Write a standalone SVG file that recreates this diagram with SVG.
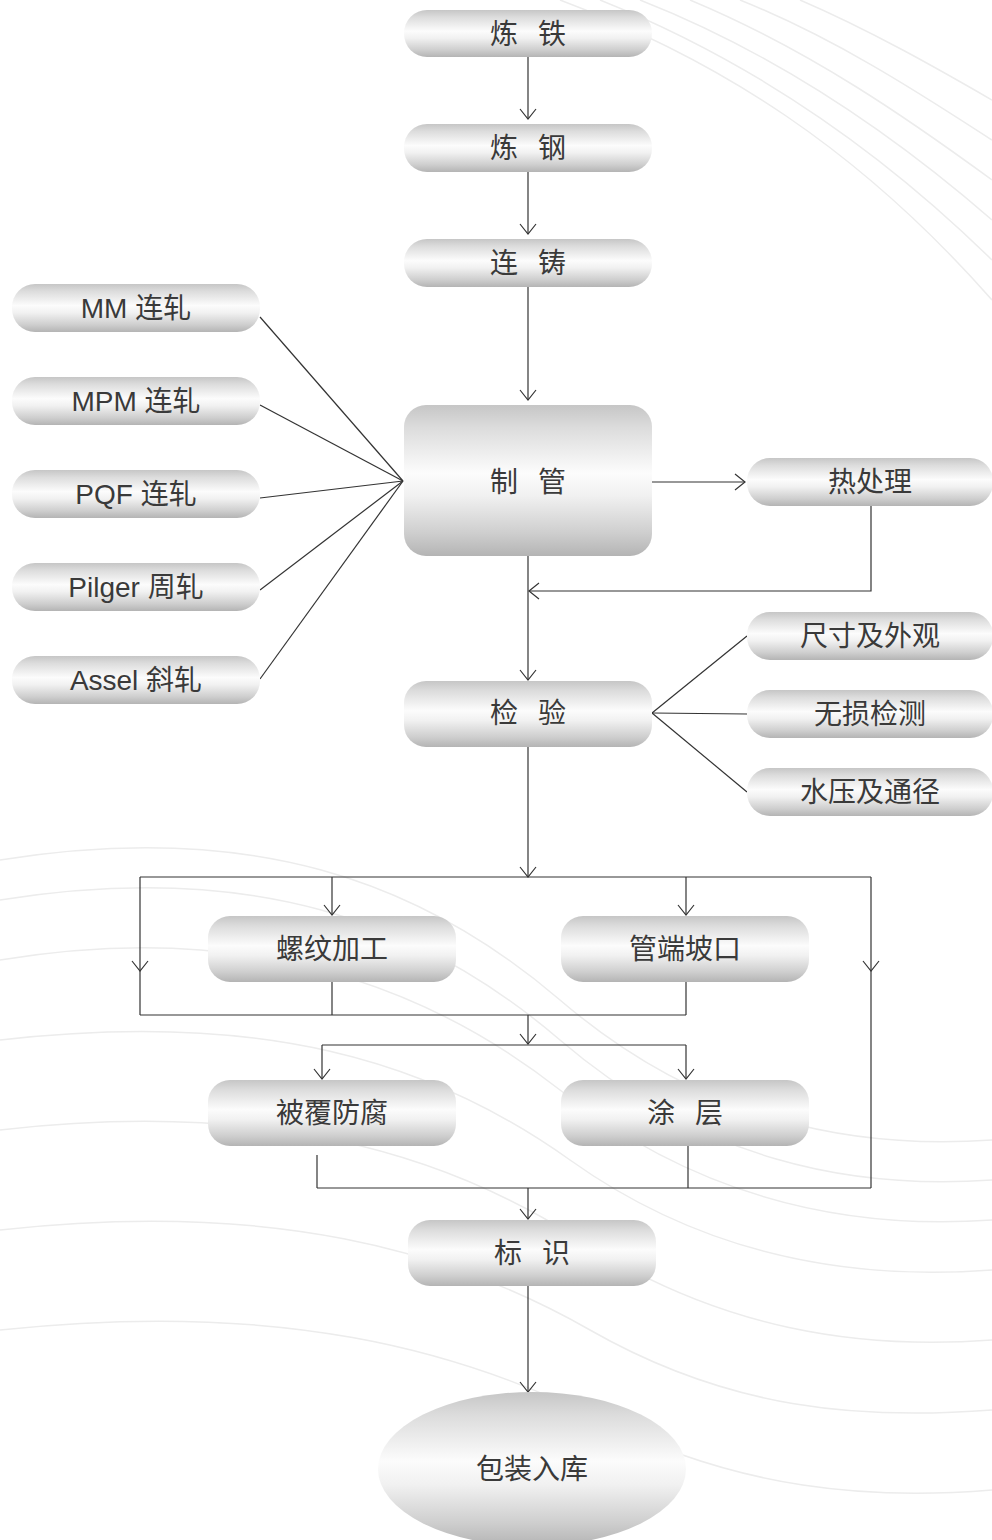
<svg xmlns="http://www.w3.org/2000/svg" width="992" height="1540" viewBox="0 0 992 1540">
<style>
.n{fill:url(#g);}
.t{font-family:"Liberation Sans","Noto Sans CJK SC",sans-serif;font-size:28px;fill:#3a3a3a;text-anchor:middle;dominant-baseline:central;}
.sp{word-spacing:12px;}
.c{stroke:#333;stroke-width:1.2;fill:none;}
.a{marker-end:url(#ah);}
.bg{fill:none;stroke:#ececec;stroke-width:1.5;}
</style>
<defs>
<linearGradient id="g" x1="0" y1="0" x2="0" y2="1">
<stop offset="0" stop-color="#c6c6c6"/>
<stop offset="0.15" stop-color="#dcdcdc"/>
<stop offset="0.45" stop-color="#fcfcfc"/>
<stop offset="0.6" stop-color="#f1f1f1"/>
<stop offset="0.85" stop-color="#cecece"/>
<stop offset="1" stop-color="#b4b4b4"/>
</linearGradient>
<marker id="ah" markerUnits="userSpaceOnUse" viewBox="-1 -9 12 18" refX="10" refY="0" markerWidth="12" markerHeight="18" orient="auto">
<path d="M0,-8 L10,0 L0,8" fill="none" stroke="#333" stroke-width="1.2"/>
</marker>
</defs>
<rect width="992" height="1540" fill="#ffffff"/>
<g id="background">
<path class="bg" d="M560,0 C720,60 860,150 992,300"/>
<path class="bg" d="M600,0 C750,60 880,150 992,260"/>
<path class="bg" d="M640,0 C780,55 900,140 992,220"/>
<path class="bg" d="M690,0 C810,50 910,120 992,180"/>
<path class="bg" d="M740,0 C840,40 930,100 992,140"/>
<path class="bg" d="M800,0 C870,30 940,70 992,100"/>
<path class="bg" d="M0,860 C250,820 420,880 560,1000 C700,1120 850,1150 992,1140"/>
<path class="bg" d="M0,900 C250,860 420,920 560,1040 C700,1160 850,1190 992,1180"/>
<path class="bg" d="M0,960 C240,920 420,980 560,1090 C700,1200 850,1230 992,1220"/>
<path class="bg" d="M0,1040 C260,1010 430,1060 570,1160 C710,1260 860,1280 992,1270"/>
<path class="bg" d="M0,1130 C260,1100 440,1150 580,1240 C720,1330 860,1350 992,1340"/>
<path class="bg" d="M0,1230 C270,1200 450,1250 590,1330 C730,1410 860,1420 992,1410"/>
<path class="bg" d="M0,1330 C280,1300 460,1350 600,1420 C740,1490 870,1500 992,1490"/>
</g>
<g id="connectors">
<line class="c a" x1="528" y1="57" x2="528" y2="119"/>
<line class="c a" x1="528" y1="172" x2="528" y2="234"/>
<line class="c a" x1="528" y1="287" x2="528" y2="400"/>
<line class="c" x1="260" y1="317" x2="403" y2="481"/>
<line class="c" x1="260" y1="405" x2="403" y2="481"/>
<line class="c" x1="260" y1="498" x2="403" y2="481"/>
<line class="c" x1="260" y1="590" x2="403" y2="481"/>
<line class="c" x1="260" y1="679" x2="403" y2="481"/>
<line class="c a" x1="652" y1="482" x2="745" y2="482"/>
<polyline class="c a" points="871,506 871,591 529,591"/>
<line class="c a" x1="528" y1="556" x2="528" y2="680"/>
<line class="c" x1="652" y1="713" x2="747" y2="636"/>
<line class="c" x1="652" y1="713" x2="747" y2="714"/>
<line class="c" x1="652" y1="713" x2="747" y2="792"/>
<line class="c a" x1="528" y1="747" x2="528" y2="877"/>
<line class="c" x1="140" y1="877" x2="871" y2="877"/>
<line class="c a" x1="140" y1="877" x2="140" y2="971"/>
<line class="c" x1="140" y1="971" x2="140" y2="1015"/>
<line class="c a" x1="871" y1="877" x2="871" y2="971"/>
<line class="c" x1="871" y1="971" x2="871" y2="1188"/>
<line class="c a" x1="332" y1="877" x2="332" y2="915"/>
<line class="c a" x1="686" y1="877" x2="686" y2="915"/>
<line class="c" x1="332" y1="982" x2="332" y2="1015"/>
<line class="c" x1="686" y1="982" x2="686" y2="1015"/>
<line class="c" x1="140" y1="1015" x2="686" y2="1015"/>
<line class="c a" x1="528" y1="1015" x2="528" y2="1044"/>
<line class="c" x1="322" y1="1045" x2="686" y2="1045"/>
<line class="c a" x1="322" y1="1045" x2="322" y2="1079"/>
<line class="c a" x1="686" y1="1045" x2="686" y2="1079"/>
<line class="c" x1="317" y1="1155" x2="317" y2="1188"/>
<line class="c" x1="688" y1="1146" x2="688" y2="1188"/>
<line class="c" x1="317" y1="1188" x2="871" y2="1188"/>
<line class="c a" x1="528" y1="1188" x2="528" y2="1219"/>
<line class="c a" x1="528" y1="1286" x2="528" y2="1392"/>
</g>
<g id="n-liantie"><rect class="n" x="404" y="10" width="248" height="47" rx="23"/><text class="t sp" x="528" y="34">炼 铁</text></g>
<g id="n-liangang"><rect class="n" x="404" y="124" width="248" height="48" rx="23"/><text class="t sp" x="528" y="148">炼 钢</text></g>
<g id="n-lianzhu"><rect class="n" x="404" y="239" width="248" height="48" rx="23"/><text class="t sp" x="528" y="263">连 铸</text></g>
<g id="n-mm"><rect class="n" x="12" y="284" width="248" height="48" rx="23"/><text class="t" x="136" y="308">MM 连轧</text></g>
<g id="n-mpm"><rect class="n" x="12" y="377" width="248" height="48" rx="23"/><text class="t" x="136" y="401">MPM 连轧</text></g>
<g id="n-pqf"><rect class="n" x="12" y="470" width="248" height="48" rx="23"/><text class="t" x="136" y="494">PQF 连轧</text></g>
<g id="n-pilger"><rect class="n" x="12" y="563" width="248" height="48" rx="23"/><text class="t" x="136" y="587">Pilger 周轧</text></g>
<g id="n-assel"><rect class="n" x="12" y="656" width="248" height="48" rx="23"/><text class="t" x="136" y="680">Assel 斜轧</text></g>
<g id="n-zhiguan"><rect class="n" x="404" y="405" width="248" height="151" rx="22"/><text class="t sp" x="528" y="482">制 管</text></g>
<g id="n-rechuli"><rect class="n" x="747" y="458" width="246" height="48" rx="23"/><text class="t" x="870" y="482">热处理</text></g>
<g id="n-jianyan"><rect class="n" x="404" y="681" width="248" height="66" rx="22"/><text class="t sp" x="528" y="713">检 验</text></g>
<g id="n-chicun"><rect class="n" x="747" y="612" width="246" height="48" rx="23"/><text class="t" x="870" y="636">尺寸及外观</text></g>
<g id="n-wusun"><rect class="n" x="747" y="690" width="246" height="48" rx="23"/><text class="t" x="870" y="714">无损检测</text></g>
<g id="n-shuiya"><rect class="n" x="747" y="768" width="246" height="48" rx="23"/><text class="t" x="870" y="792">水压及通径</text></g>
<g id="n-luowen"><rect class="n" x="208" y="916" width="248" height="66" rx="22"/><text class="t" x="332" y="949">螺纹加工</text></g>
<g id="n-guanduan"><rect class="n" x="561" y="916" width="248" height="66" rx="22"/><text class="t" x="685" y="949">管端坡口</text></g>
<g id="n-beifu"><rect class="n" x="208" y="1080" width="248" height="66" rx="22"/><text class="t" x="332" y="1113">被覆防腐</text></g>
<g id="n-tuceng"><rect class="n" x="561" y="1080" width="248" height="66" rx="22"/><text class="t sp" x="685" y="1113">涂 层</text></g>
<g id="n-biaoshi"><rect class="n" x="408" y="1220" width="248" height="66" rx="22"/><text class="t sp" x="532" y="1253">标 识</text></g>
<g id="n-baozhuang"><ellipse class="n" cx="532" cy="1469" rx="154" ry="77"/><text class="t" x="532" y="1469">包装入库</text></g>
</svg>
